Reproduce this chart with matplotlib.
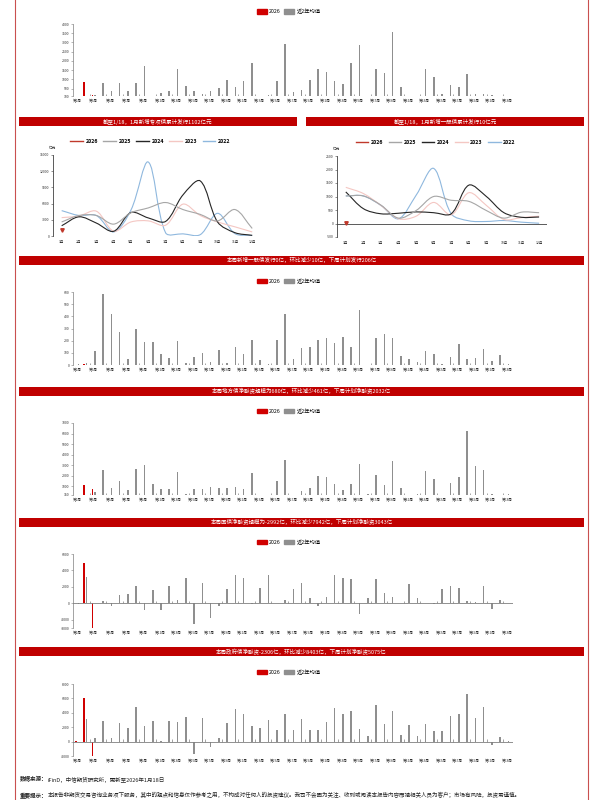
import numpy as np
import matplotlib.pyplot as plt
from matplotlib.patches import Patch, Rectangle, PathPatch
from matplotlib.lines import Line2D
from matplotlib.path import Path

plt.rcParams['font.family'] = ['Noto Sans CJK SC', 'DejaVu Sans']
plt.rcParams['axes.unicode_minus'] = False

RED = '#d00000'
GRAY = '#8f8f8f'
BANNER = '#c00000'
AXIS = '#7f7f7f'

weeks = [f'第{i}周' for i in range(1, 54)]
months = [f'{i}月' for i in range(1, 13)]

# ---- 周度柱状图数据（2026 / 近2年均值） ----
special_2026 = [110, 850, 142]
special_avg = [100, 100, 140, 810, 370, 820, 370, 820, 1730, 100, 260, 390, 1560, 640, 370, 230, 370, 530,
               950, 590, 910, 1890, 100, 130, 910, 2935, 320, 425, 950, 1545, 1400, 895, 750, 1870, 2845,
               100, 1580, 1345, 3550, 590, 100, 120, 1560, 1130, 210, 700, 590, 1290, 210, 210, 150, 100, 120]

general_2026 = [0, 10, 0]
general_avg = [5, 15, 116, 580, 418, 268, 47, 293, 190, 188, 91, 55, 196, 15, 69, 97, 28, 122, 19, 150, 88,
               205, 44, 8, 205, 418, 50, 138, 150, 205, 221, 177, 227, 147, 448, 0, 221, 254, 218, 72, 47,
               22, 119, 91, 8, 69, 171, 47, 55, 133, 30, 86, 5]

local_2026 = [150, 1141, 680]
local_avg = [100, 100, 430, 2520, 780, 1510, 650, 2650, 3030, 1160, 710, 710, 2330, 240, 710, 710, 940, 840,
             810, 900, 680, 2240, 100, 100, 1480, 3470, 100, 520, 840, 1950, 1890, 1160, 650, 1190, 3090,
             200, 2080, 1130, 3380, 810, 100, 200, 2460, 1670, 100, 1320, 1860, 6260, 2930, 2520, 200, 100, 200]

treasury_2026 = [0, 4950, -2992]
treasury_avg = [-100, 3150, 100, 250, -300, 1050, 1150, 2050, -850, 1650, -800, 2100, 400, 3050, -2500, 2450,
                -1800, -300, 1750, 3450, 3050, -100, 1850, 3450, 100, 350, 1800, 2450, 700, -350, 750, 3400,
                3050, 2950, -1300, 650, 2900, 1200, 750, 0, 2350, 650, 0, -100, 1750, 2150, 1900, 250, 200,
                2150, -650, 450, 100]

gov_2026 = [150, 6097, -2306]
gov_avg = [-100, 3130, 500, 2800, 550, 2580, 1840, 4780, 2160, 2900, 50, 2900, 2710, 3400, -1750, 3270, -780,
           550, 2620, 4460, 3820, 2120, 1930, 2940, 1660, 3860, 1610, 3130, 1610, 1610, 2760, 4690, 3820,
           4230, 1790, 740, 5100, 2390, 4190, 870, 2250, 780, 2480, 1520, 1470, 3590, 3820, 6620, 3220,
           4830, -450, 650, 50]

# ---- 月度折线图数据 ----
years = ['2026', '2025', '2024', '2023', '2022']
year_colors = ['#c0392b', '#a6a6a6', '#262626', '#f4c7c3', '#8fb8de']

special_month = {
    '2026': [1102],
    '2025': [2600, 3800, 3800, 2200, 4300, 5200, 6200, 4900, 4000, 2800, 4900, 1400],
    '2024': [1900, 3550, 2400, 870, 4350, 3350, 2700, 7600, 10200, 2600, 620, 120],
    '2023': [3400, 3700, 4600, 900, 2600, 2800, 2000, 5900, 3800, 2600, 1700, 750],
    '2022': [4700, 3800, 3800, 750, 4800, 13700, 600, 400, 250, 4200, 450, 100],
}
general_month = {
    '2026': [10],
    '2025': [1020, 1020, 680, 200, 480, 1000, 860, 820, 480, 200, 420, 400],
    '2024': [1170, 550, 360, 380, 430, 400, 360, 1420, 1000, 400, 230, 240],
    '2023': [1340, 1110, 670, 175, 270, 780, 320, 1140, 670, 150, 220, 270],
    '2022': [1020, 1020, 670, 175, 1045, 2040, 360, 100, 75, 110, 50, 10],
}

banner_texts = [
    '截至1/18，1月新增专项债累计发行1102亿元',
    '截至1/18，1月新增一般债累计发行10亿元',
    '本周新增一般债发行0亿，环比减少10亿，下周计划发行206亿',
    '本周地方债净融资规模为680亿，环比减少461亿，下周计划净融资2032亿',
    '本周国债净融资规模为-2992亿，环比减少7942亿，下周计划净融资3043亿',
    '本周政府债净融资-2306亿，环比减少8403亿，下周计划净融资5075亿',
]

fig = plt.figure(figsize=(6, 8), dpi=100)
fig.patch.set_facecolor('white')


def rect(x, y, w, h):
    # 像素（左上角为原点）转为figure坐标
    return [x / 600, 1 - (y + h) / 800, w / 600, h / 800]


def bar_panel(r, red, gray, ylim, yticks, legend_y):
    ax = fig.add_axes(r)
    x = np.arange(len(weeks))
    ax.bar(x[:len(red)] - 0.14, red, width=0.19, color=RED, zorder=3)
    ax.bar(x + 0.14, gray, width=0.19, color=GRAY, zorder=3)
    ax.set_xlim(-0.5, 52.7)
    ax.set_ylim(*ylim)
    ax.set_yticks(yticks)
    ax.set_xticks(x[::2])
    ax.set_xticklabels(weeks[::2])
    base = max(ylim[0], 0)
    for s in ['top', 'right', 'bottom']:
        ax.spines[s].set_visible(False)
    ax.spines['left'].set_color(AXIS)
    ax.spines['left'].set_linewidth(0.5)
    ax.axhline(base, color=AXIS, lw=0.6, zorder=4)
    ax.vlines(np.arange(1.5, 52, 2), base, base + 0.03 * (ylim[1] - ylim[0]), color=AXIS, lw=0.5, zorder=4)
    ax.tick_params(axis='x', length=0, labelsize=2.5, pad=2.5, labelcolor='#333333')
    ax.tick_params(axis='y', length=1.5, width=0.4, color=AXIS, labelsize=2.5, pad=1, labelcolor='#333333')
    ax.legend(handles=[Patch(color=RED), Patch(color=GRAY)], labels=['2026', '近2年均值'],
              loc='center', bbox_to_anchor=(0.49, legend_y), ncol=2, frameon=False, fontsize=3.8,
              handlelength=1.9, handleheight=0.9, columnspacing=0.7, handletextpad=0.4)
    return ax


def smooth(ax, ys, color, sx, sy):
    # 类Excel平滑线：三次贝塞尔，控制点按相邻弦长加权（减少过冲）
    pts = np.column_stack([np.arange(len(ys)), ys]).astype(float)
    n = len(pts)

    def dist(a, b):
        return np.hypot((a[0] - b[0]) * sx, (a[1] - b[1]) * sy) + 1e-9

    verts = [pts[0]]
    codes = [Path.MOVETO]
    for i in range(n - 1):
        p0 = pts[max(i - 1, 0)]
        p1 = pts[i]
        p2 = pts[i + 1]
        p3 = pts[min(i + 2, n - 1)]
        d01, d12, d23 = dist(p0, p1), dist(p1, p2), dist(p2, p3)
        c1 = p1 + (p2 - p0) * d12 / (d01 + d12) / 3 if i > 0 else p1 + (p2 - p1) / 3
        c2 = p2 - (p3 - p1) * d12 / (d12 + d23) / 3 if i < n - 2 else p2 - (p2 - p1) / 3
        verts += [c1, c2, p2]
        codes += [Path.CURVE4] * 3
    ax.add_patch(PathPatch(Path(verts, codes), fill=False, edgecolor=color, lw=0.8, zorder=3))


def line_panel(r, data, ylim, yticks, legend_x):
    ax = fig.add_axes(r)
    xlim = (-0.5, 11.45)
    sx = r[2] * 600 / (xlim[1] - xlim[0])
    sy = r[3] * 800 / (ylim[1] - ylim[0])
    for yr, c in zip(years[::-1], year_colors[::-1]):
        vals = data[yr]
        if len(vals) > 1:
            smooth(ax, vals, c, sx, sy)
        else:
            ax.plot(range(len(vals)), vals, marker='v', markersize=2.5, color=c, lw=0, zorder=5)
    ax.set_xlim(*xlim)
    ax.set_ylim(*ylim)
    ax.set_yticks(yticks)
    ax.set_xticks(range(12))
    ax.set_xticklabels(months)
    for s in ['top', 'right', 'bottom']:
        ax.spines[s].set_visible(False)
    ax.spines['left'].set_color('#404040')
    ax.spines['left'].set_linewidth(0.6)
    ax.axhline(0, color='#404040', lw=0.6, zorder=4)
    ax.tick_params(axis='x', length=0, labelsize=2.5, pad=3, labelcolor='#333333')
    ax.tick_params(axis='y', length=1.5, width=0.4, color='#404040', labelsize=2.5, pad=1, labelcolor='#333333')
    ax.text(-0.02, 1.06, '亿元', transform=ax.transAxes, fontsize=2.6, ha='left', va='bottom', color='#333333')
    handles = [Line2D([], [], color=c, lw=1.0) for c in year_colors]
    ax.legend(handles=handles, labels=years, loc='center', bbox_to_anchor=(legend_x, 1.165), ncol=5,
              frameon=False, handlelength=2.4, columnspacing=1.0, handletextpad=0.5,
              prop={'size': 3.8, 'weight': 'bold'})
    return ax


# 周度柱状图
bar_panel(rect(73, 24, 440, 72), special_2026, special_avg, (100, 4000),
          [100, 500, 1000, 1500, 2000, 2500, 3000, 3500, 4000], 1.17)
bar_panel(rect(73, 292, 440, 73), general_2026, general_avg, (0, 600),
          [0, 100, 200, 300, 400, 500, 600], 1.15)
bar_panel(rect(73, 423, 440, 72), local_2026, local_avg, (150, 7000),
          [150, 1000, 2000, 3000, 4000, 5000, 6000, 7000], 1.167)
bar_panel(rect(73, 554, 440, 74), treasury_2026, treasury_avg, (-3000, 6000),
          [-3000, -2000, 0, 2000, 4000, 6000], 1.16)
bar_panel(rect(73, 684, 440, 72), gov_2026, gov_avg, (-2000, 8000),
          [-2000, 0, 2000, 4000, 6000, 8000], 1.167)

# 月度折线图
line_panel(rect(53, 155, 207, 81), special_month, (0, 15000),
           [0, 3000, 6000, 9000, 12000, 15000], 0.47)
line_panel(rect(337, 156, 210, 81), general_month, (-500, 2500),
           [-500, 0, 500, 1000, 1500, 2000, 2500], 0.47)

# 红色标题条
banners = [(19, 117, 278), (306, 117, 278), (19, 256, 565), (19, 387, 565), (19, 518, 565), (19, 647, 565)]
for (bx, by, bw), t in zip(banners, banner_texts):
    r = rect(bx, by, bw, 9)
    fig.add_artist(Rectangle((r[0], r[1]), r[2], r[3], transform=fig.transFigure,
                             facecolor=BANNER, edgecolor='none'))
    fig.text(r[0] + r[2] / 2, r[1] + r[3] / 2, t, color='white', fontsize=4, ha='center', va='center')

# 外框红线
for fx in [15, 588]:
    fig.add_artist(Line2D([fx / 600, fx / 600], [0, 1], transform=fig.transFigure, color='#c9504f', lw=0.8))

# 底部说明
fig.canvas.draw()
renderer = fig.canvas.get_renderer()
notes = [('数据来源：', 'iFinD，中信期货研究所，更新至2026年1月18日', 779),
         ('重要提示：', '本报告非期货交易咨询业务项下服务，其中的观点和信息仅作参考之用，不构成对任何人的投资建议。'
                   '我司不会因为关注、收到或阅读本报告内容而视相关人员为客户；市场有风险，投资需谨慎。', 795)]
for head, body, ny in notes:
    t1 = fig.text(20 / 600, 1 - ny / 800, head, fontsize=4, fontweight='bold', ha='left', va='center',
                  color='#222222')
    w = t1.get_window_extent(renderer).width
    fig.text(20 / 600 + w / 600, 1 - ny / 800, body, fontsize=4, ha='left', va='center', color='#222222')

fig.savefig('out.png', dpi=100)
